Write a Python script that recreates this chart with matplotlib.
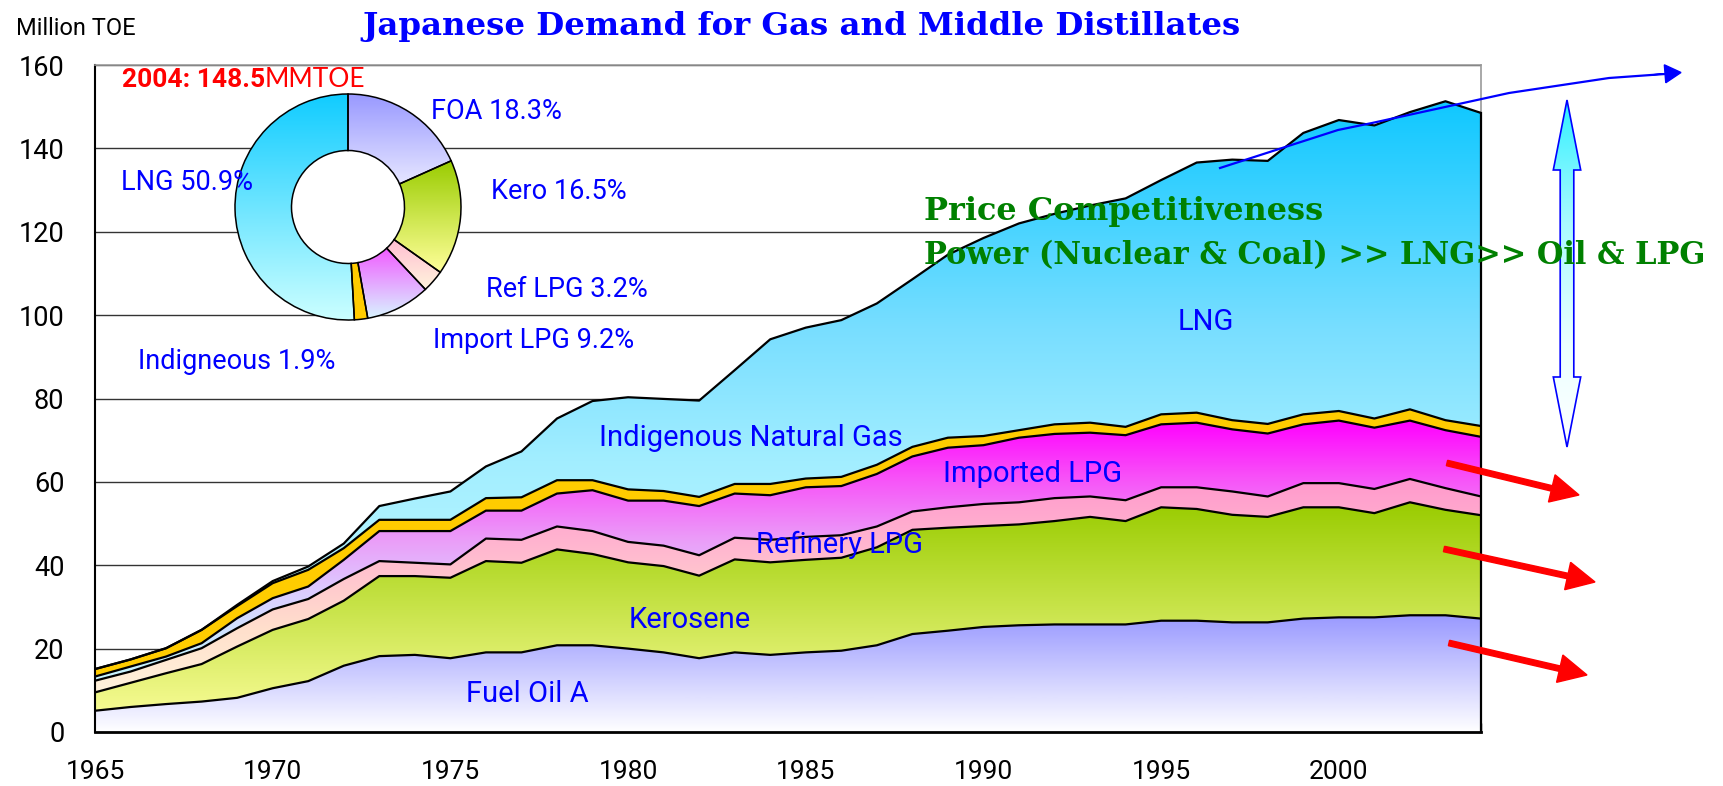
import numpy as np
import matplotlib
matplotlib.use("Agg")
import matplotlib.pyplot as plt
from matplotlib.colors import LinearSegmentedColormap
from matplotlib.patches import Polygon, FancyArrow, Circle

W, H = 1723, 786

# --- DATA (million TOE) ---
years = list(range(1965, 2005))
fuel_oil_a = [5.1, 6.0, 6.7, 7.3, 8.2, 10.5, 12.2, 15.9, 18.2, 18.5,
              17.7, 19.1, 19.1, 20.8, 20.8, 20.0, 19.1, 17.7, 19.1, 18.5,
              19.1, 19.5, 20.8, 23.5, 24.3, 25.2, 25.6, 25.8, 25.8, 25.8,
              26.7, 26.7, 26.3, 26.3, 27.2, 27.5, 27.5, 28.0, 28.0, 27.2]
kerosene = [4.4, 5.8, 7.4, 9.0, 12.3, 14.0, 14.9, 15.6, 19.2, 18.9,
            19.3, 21.9, 21.5, 23.0, 21.9, 20.7, 20.7, 19.8, 22.3, 22.2,
            22.2, 22.3, 23.5, 25.0, 24.7, 24.2, 24.2, 24.8, 25.8, 24.8,
            27.2, 26.8, 25.8, 25.3, 26.7, 26.4, 25.0, 27.1, 25.3, 24.8]
refinery_lpg = [2.8, 2.7, 3.2, 3.8, 4.4, 4.9, 4.8, 5.2, 3.6, 3.2,
                3.2, 5.4, 5.5, 5.5, 5.5, 4.9, 4.9, 4.9, 5.2, 5.4,
                5.5, 5.4, 5.0, 4.4, 4.9, 5.3, 5.3, 5.5, 4.9, 5.0,
                4.8, 5.2, 5.6, 4.9, 5.8, 5.8, 5.8, 5.6, 5.2, 4.5]
imported_lpg = [1.0, 1.2, 0.8, 1.2, 2.4, 2.7, 3.0, 4.6, 7.2, 7.6,
                8.0, 6.7, 7.0, 7.9, 9.8, 9.9, 10.8, 11.8, 10.6, 10.7,
                11.9, 11.8, 12.6, 13.2, 14.3, 14.1, 15.5, 15.4, 15.3, 15.6,
                15.1, 15.5, 14.9, 15.1, 14.1, 15.0, 14.7, 14.0, 13.9, 14.3]
indigenous_gas = [1.8, 1.7, 2.0, 3.2, 2.9, 3.6, 4.0, 2.8, 2.7, 2.7,
                  2.7, 3.0, 3.2, 3.2, 2.4, 2.7, 2.3, 2.2, 2.3, 2.7,
                  2.1, 2.2, 2.2, 2.3, 2.4, 2.2, 1.8, 2.3, 2.4, 2.0,
                  2.4, 2.4, 2.2, 2.3, 2.4, 2.3, 2.2, 2.7, 2.4, 2.6]
lng = [0.0, 0.0, 0.0, 0.0, 0.3, 0.5, 0.8, 1.1, 3.3, 5.1,
       6.8, 7.6, 11.0, 14.8, 19.0, 22.1, 22.1, 23.1, 27.3, 34.7,
       36.2, 37.6, 38.7, 40.2, 43.9, 47.5, 49.6, 50.5, 52.1, 54.8,
       56.2, 60.0, 62.5, 63.1, 67.5, 69.8, 70.3, 71.3, 76.5, 75.1]

# 2004 breakdown (donut)
share_labels = ["FOA 18.3%", "Kero 16.5%", "Ref LPG 3.2%", "Import LPG 9.2%",
                "Indigneous 1.9%", "LNG 50.9%"]
share_values = [18.3, 16.5, 3.2, 9.2, 1.9, 50.9]

y_ticks = [0, 20, 40, 60, 80, 100, 120, 140, 160]
x_label_years = [1965, 1970, 1975, 1980, 1985, 1990, 1995, 2000]

plt.rcParams["font.family"] = ["Roboto", "DejaVu Sans"]
BLUE = "#0000FF"


def px(x, y):
    return x / W, 1 - y / H


def cmap_of(stops):
    return LinearSegmentedColormap.from_list("g", stops)


GRAD = np.linspace(0, 1, 256).reshape(-1, 1)

fig = plt.figure(figsize=(W / 100, H / 100), dpi=100)

# --- AREA CHART ---
ax = fig.add_axes([95 / W, 1 - 732 / H, (1481 - 95) / W, (732 - 65) / H])
yrs = np.array(years, dtype=float)
layers = [fuel_oil_a, kerosene, refinery_lpg, imported_lpg, indigenous_gas, lng]
layer_stops = [
    ["#FFFFFF", "#9999FF"],
    ["#FFFFA0", "#99CC00"],
    [(0, "#FFFFE6"), (0.4, "#FFE0CC"), (0.75, "#FFB4D0"), (1, "#FF99CC")],
    [(0, "#C8FFFF"), (0.25, "#C8F0FF"), (0.45, "#DCCCFF"), (0.62, "#EB9CF8"),
     (0.82, "#F850F8"), (1, "#FF00FF")],
    ["#FFCC00", "#FFCC00"],
    [(0, "#D0FFFF"), (0.43, "#A2EEFF"), (0.64, "#78DEFF"), (1, "#10C8FF")],
]
lower = np.zeros(len(years))
for vals, stops in zip(layers, layer_stops):
    upper = lower + np.array(vals)
    verts = np.vstack([np.column_stack([yrs, upper]),
                       np.column_stack([yrs[::-1], lower[::-1]])])
    clip = Polygon(verts, closed=True, facecolor="none", edgecolor="none")
    ax.add_patch(clip)
    im = ax.imshow(GRAD, cmap=cmap_of(stops), origin="lower", aspect="auto",
                   extent=[yrs[0], yrs[-1], 0, upper.max()], zorder=2,
                   interpolation="bilinear")
    im.set_clip_path(clip)
    ax.plot(yrs, upper, color="black", lw=1.6, zorder=4)
    lower = upper
ax.plot([yrs[-1], yrs[-1]], [0, lower[-1]], color="black", lw=1.6, zorder=4, clip_on=False)

ax.set_xlim(1965, 2004)
ax.set_ylim(0, 160)
ax.set_yticks(y_ticks)
ax.set_xticks(x_label_years)
ax.set_xticks(years, minor=True)
ax.grid(axis="y", color="#333333", lw=1.0, zorder=0)
ax.set_axisbelow(True)
ax.tick_params(axis="y", length=0, pad=22, labelsize=19.5)
ax.tick_params(axis="x", which="both", direction="in", length=6.5, width=1,
               pad=20, labelsize=19)
for s in ["top", "right"]:
    ax.spines[s].set_color("#999999")
    ax.spines[s].set_linewidth(1.2)
ax.spines["left"].set_linewidth(1.5)
ax.spines["bottom"].set_linewidth(2)

area_labels = [("LNG", 1995.47, 96.4), ("Indigenous Natural Gas", 1979.18, 68.7),
               ("Imported LPG", 1988.86, 60.0), ("Refinery LPG", 1983.61, 42.9),
               ("Kerosene", 1980.01, 24.9), ("Fuel Oil A", 1975.44, 7.3)]
for txt, xx, yy in area_labels:
    ax.text(xx, yy, txt, color=BLUE, fontsize=21, ha="left", va="baseline", zorder=6)

# --- DONUT ---
cx, cy, r = 348, 207, 113
rr = r * 1.02
axd = fig.add_axes([(cx - rr) / W, 1 - (cy + rr) / H, 2 * rr / W, 2 * rr / H])
wedges, _ = axd.pie(share_values, startangle=90, counterclock=False, radius=1,
                    wedgeprops=dict(width=0.5, facecolor="none", edgecolor="black", linewidth=1.1))
donut_stops = [["#FAFAFF", "#9999FF"], ["#FFFF99", "#99CC00"], ["#FFF4DC", "#FF99CC"],
               ["#D8F4FF", "#FF00FF"], ["#FFCC00", "#FFCC00"], ["#CCFFFF", "#11CCFF"]]
axd.add_patch(Circle((0, 0), 0.5, facecolor="white", edgecolor="none", zorder=0))
for w, stops in zip(wedges, donut_stops):
    v = w.get_path().vertices
    im = axd.imshow(GRAD, cmap=cmap_of(stops), origin="lower", aspect="auto",
                    extent=[-1, 1, v[:, 1].min(), v[:, 1].max()], zorder=1,
                    interpolation="bilinear")
    im.set_clip_path(w)
    w.set_zorder(2)
axd.set_xlim(-1.02, 1.02)
axd.set_ylim(-1.02, 1.02)
axd.axis("off")

donut_pos = [(430.8, 119.3), (491, 199.3), (485.7, 296.7), (433, 348.3),
             (138.4, 369.3), (121.4, 190)]
for txt, (x, y) in zip(share_labels, donut_pos):
    fig.text(*px(x, y), txt, color=BLUE, fontsize=19.5, ha="left", va="baseline")

fig.text(*px(121.7, 87), "2004: 148.5", color="#FF0000", fontsize=19,
         fontweight="bold", ha="left", va="baseline")
fig.text(*px(265, 87), "MMTOE", color="#FF0000", fontsize=19, family=["Lato", "DejaVu Sans"],
         ha="left", va="baseline")

# --- TEXTS ---
fig.text(*px(15.6, 35), "Million TOE", fontsize=17, ha="left", va="baseline")
fig.text(*px(802, 35), "Japanese Demand for Gas and Middle Distillates", color=BLUE,
         fontsize=23.3, family="DejaVu Serif", fontweight="bold", ha="center", va="baseline")
fig.text(*px(923.6, 220), "Price Competitiveness", color="#008000", fontsize=23,
         family="DejaVu Serif", fontweight="bold", ha="left", va="baseline")
fig.text(*px(923.6, 264), "Power (Nuclear & Coal) >> LNG>> Oil & LPG", color="#008000",
         fontsize=22, family="DejaVu Serif", fontweight="bold", ha="left", va="baseline")

# --- ARROWS (overlay in pixel coords) ---
axo = fig.add_axes([0, 0, 1, 1])
curve_x = [1220, 1338, 1372, 1509, 1609, 1665]
curve_y = [168, 130, 123, 93, 78, 74]
axo.plot(curve_x, curve_y, color="blue", lw=1.6)
axo.add_patch(FancyArrow(1650, 75, 31, -2.5, width=0, head_width=18, head_length=16,
                         length_includes_head=True, color="blue"))

xc = 1567
dbl = [(xc, 100), (xc - 13.7, 170), (xc - 6.8, 170), (xc - 6.8, 377), (xc - 13.7, 377),
       (xc, 447), (xc + 13.7, 377), (xc + 6.8, 377), (xc + 6.8, 170), (xc + 13.7, 170)]
dpoly = Polygon(dbl, closed=True, facecolor="none", edgecolor="blue", lw=1.2, zorder=3)
axo.add_patch(dpoly)
im = axo.imshow(GRAD, cmap=cmap_of([(0, "#FFFFFF"), (0.3, "#EAFFFF"), (0.65, "#A8FAFF"), (1, "#30F0FF")]),
                origin="lower", aspect="auto", extent=[xc - 15, xc + 15, 447, 100], zorder=2)
im.set_clip_path(dpoly)

for (x0, y0), (x1, y1) in [((1447, 463), (1579, 495)), ((1444, 549), (1595, 582)),
                           ((1449, 643), (1587, 675))]:
    axo.add_patch(FancyArrow(x0, y0, x1 - x0, y1 - y0, width=5.5, head_width=28,
                             head_length=28, length_includes_head=True, color="#FF0000"))

axo.set_xlim(0, W)
axo.set_ylim(H, 0)
axo.axis("off")

fig.savefig("out.png", dpi=100)
